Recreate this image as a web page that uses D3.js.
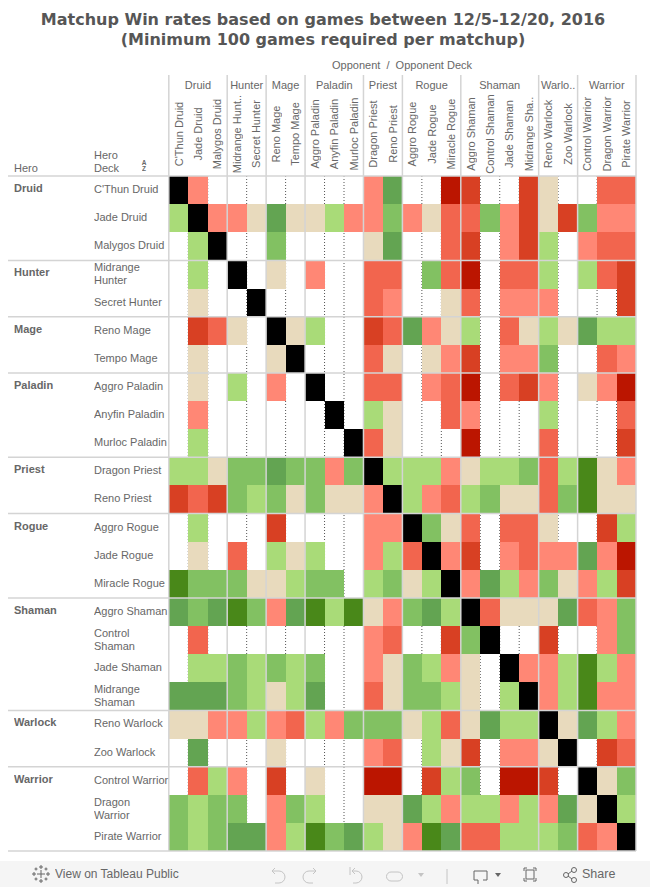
<!DOCTYPE html>
<html>
<head>
<meta charset="utf-8">
<script src="https://d3js.org/d3.v7.min.js"></script>
<style>
  html, body { margin: 0; padding: 0; background: #fff; }
  text { font-family: "Liberation Sans", Arial, sans-serif; fill: #666; opacity: 0.99; white-space: pre; }
</style>
</head>
<body>
<svg id="chart" width="650" height="887"></svg>
<script>
const heroes = ["Druid", "Hunter", "Mage", "Paladin", "Priest", "Rogue", "Shaman", "Warlock", "Warrior"],
      heroLabels = ["Druid", "Hunter", "Mage", "Paladin", "Priest", "Rogue", "Shaman", "Warlo..", "Warrior"],
      heroSizes = [3, 2, 2, 3, 2, 3, 4, 2, 3];

const decks = ["C'Thun Druid", "Jade Druid", "Malygos Druid", "Midrange Hunter", "Secret Hunter",
  "Reno Mage", "Tempo Mage", "Aggro Paladin", "Anyfin Paladin", "Murloc Paladin", "Dragon Priest",
  "Reno Priest", "Aggro Rogue", "Jade Rogue", "Miracle Rogue", "Aggro Shaman", "Control Shaman",
  "Jade Shaman", "Midrange Shaman", "Reno Warlock", "Zoo Warlock", "Control Warrior",
  "Dragon Warrior", "Pirate Warrior"];

const columnLabels = decks.map(d => d === "Midrange Hunter" ? "Midrange Hunt.." : d === "Midrange Shaman" ? "Midrange Sha.." : d);

const wrappedDecks = ["Midrange Hunter", "Control Shaman", "Dragon Warrior", "Midrange Shaman"];

// win rate bands, 1 = heavily unfavoured .. 9 = heavily favoured, 0 = under 100 games, X = mirror
const X = -1;
const bands = [1, 2, 3, 4, 5, 6, 7, 8, 9, X],
      bandColors = ["#bb1500", "#d84023", "#f2654e", "#ff8775", "#e8dabd", "#a9db78", "#82c162", "#63a452", "#498819", "#000"];

const cthunDruid     = [X,4,0,0,0,0,0,0,0,0,4,8,0,0,1,2,0,0,2,5,0,0,3,3],
      jadeDruid      = [6,X,4,4,5,8,5,5,6,4,4,7,4,5,3,3,7,4,2,5,2,7,4,4],
      malygosDruid   = [0,6,X,0,0,7,0,0,0,0,5,8,0,0,3,2,0,4,2,6,0,4,3,3],
      midrangeHunter = [0,6,0,X,0,5,0,4,0,0,3,3,0,7,3,1,0,3,3,6,0,6,3,2],
      secretHunter   = [0,5,0,0,X,0,0,0,0,0,3,4,0,0,5,3,0,4,4,4,0,0,0,2],
      renoMage       = [0,2,3,5,0,X,5,6,0,0,2,3,8,4,5,6,0,3,5,6,5,8,6,6],
      tempoMage      = [0,5,0,0,0,5,X,0,0,0,3,5,0,5,4,2,0,4,4,7,0,0,3,4],
      aggroPaladin   = [0,5,0,6,0,4,0,X,0,0,3,3,0,4,3,1,0,3,2,4,0,5,4,1],
      anyfinPaladin  = [0,4,0,0,0,0,0,0,X,0,6,5,0,0,3,4,0,0,0,6,0,0,0,3],
      murlocPaladin  = [0,6,0,0,0,0,0,0,0,X,3,5,0,0,0,1,0,0,0,3,0,0,0,2],
      dragonPriest   = [6,6,5,7,7,8,7,7,4,7,X,6,6,6,4,5,6,6,7,3,6,9,5,4],
      renoPriest     = [2,3,2,7,6,7,5,7,5,5,4,X,6,4,3,6,7,5,5,3,7,9,5,5],
      aggroRogue     = [0,6,0,0,0,2,0,0,0,0,4,4,X,7,5,3,0,3,3,5,0,0,2,6],
      jadeRogue      = [0,5,0,3,0,6,5,6,0,0,4,6,3,X,4,2,0,4,3,4,4,8,4,1],
      miracleRogue   = [9,7,7,7,5,5,6,7,7,0,6,7,5,6,X,4,8,6,4,7,5,4,6,2],
      aggroShaman    = [8,7,8,9,7,4,8,9,6,9,5,4,7,8,6,X,3,5,5,5,8,3,4,7],
      controlShaman  = [0,3,0,0,0,0,0,0,0,0,4,3,0,0,2,7,X,0,0,2,0,0,4,7],
      jadeShaman     = [0,6,6,7,6,7,6,7,0,0,4,5,7,6,4,5,0,X,4,4,6,9,6,4],
      midrangeShaman = [8,8,8,7,6,5,6,8,0,0,3,5,7,7,6,5,0,6,X,4,6,9,4,4],
      renoWarlock    = [5,5,4,4,6,4,3,6,4,7,7,7,5,6,3,5,8,6,6,X,5,8,6,4],
      zooWarlock     = [0,8,0,0,0,5,0,0,0,0,4,3,0,6,5,2,0,4,4,5,X,0,2,3],
      controlWarrior = [0,3,6,4,0,2,0,5,0,0,1,1,0,2,6,7,0,1,1,2,0,X,5,7],
      dragonWarrior  = [7,6,7,7,0,4,7,6,0,0,5,5,8,6,4,6,6,4,6,4,8,5,X,6],
      pirateWarrior  = [7,6,7,8,8,4,6,9,7,8,6,5,4,9,8,3,3,6,6,6,7,3,4,X];

const matchups = [cthunDruid, jadeDruid, malygosDruid, midrangeHunter, secretHunter, renoMage, tempoMage,
  aggroPaladin, anyfinPaladin, murlocPaladin, dragonPriest, renoPriest, aggroRogue, jadeRogue, miracleRogue,
  aggroShaman, controlShaman, jadeShaman, midrangeShaman, renoWarlock, zooWarlock, controlWarrior,
  dragonWarrior, pirateWarrior];

const svg = d3.select("#chart");

const x = d3.scaleBand().domain(decks).range([168.8, 636]),
      y = d3.scaleBand().domain(decks).range([176, 851]),
      color = d3.scaleOrdinal().domain(bands).range(bandColors);

// index of the first deck of each hero
const starts = heroSizes.map((n, i) => d3.sum(heroSizes.slice(0, i)));

// title
svg.selectAll(".title")
  .data(["Matchup Win rates based on games between 12/5-12/20, 2016", "(Minimum 100 games required per matchup)"])
  .enter().append("text")
    .attr("class", "title")
    .attr("x", 323)
    .attr("y", (d, i) => 25 + i * 20)
    .attr("text-anchor", "middle")
    .style("font-family", "'DejaVu Sans', sans-serif")
    .style("font-weight", "bold")
    .style("font-size", "16px")
    .style("fill", "#555")
    .text(d => d);

// headers
svg.append("text").attr("x", 332).attr("y", 69).style("font-size", "11px").text("Opponent  /  Opponent Deck");
svg.append("text").attr("x", 14).attr("y", 172).style("font-size", "11px").text("Hero");
svg.selectAll(".deckTitle").data(["Hero", "Deck"]).enter().append("text")
    .attr("class", "deckTitle")
    .attr("x", 94)
    .attr("y", (d, i) => 159 + i * 13)
    .style("font-size", "11px")
    .text(d => d);
svg.selectAll(".sort").data(["A", "Z"]).enter().append("text")
    .attr("class", "sort")
    .attr("x", 144)
    .attr("y", (d, i) => 165 + i * 6)
    .attr("text-anchor", "middle")
    .style("font-size", "6.5px")
    .style("font-weight", "bold")
    .text(d => d);

// dotted deck separators, under the cells
const inner = d3.range(1, decks.length).filter(i => !starts.includes(i));
svg.append("g").selectAll("line").data(inner).enter().append("line")
    .attr("x1", i => x(decks[i]))
    .attr("x2", i => x(decks[i]))
    .attr("y1", y.range()[0])
    .attr("y2", y.range()[1])
    .attr("stroke", "#555")
    .attr("stroke-dasharray", "1,2");

// cells
const cells = matchups.flatMap((row, r) => row.map((band, c) => ({row: decks[r], col: decks[c], band})))
  .filter(d => d.band !== 0);

svg.append("g").selectAll("rect").data(cells).enter().append("rect")
    .attr("x", d => x(d.col))
    .attr("y", d => y(d.row))
    .attr("width", x.bandwidth())
    .attr("height", y.bandwidth())
    .attr("fill", d => color(d.band))
    .attr("shape-rendering", "crispEdges");

// hero group dividers
const grid = svg.append("g").attr("stroke", "#d4d4d4").attr("stroke-width", 1.5);

grid.selectAll(".colLine").data(starts).enter().append("line")
    .attr("class", "colLine")
    .attr("x1", i => x(decks[i]))
    .attr("x2", i => x(decks[i]))
    .attr("y1", 75)
    .attr("y2", y.range()[1]);

grid.append("line")
    .attr("x1", x.range()[1])
    .attr("x2", x.range()[1])
    .attr("y1", 75)
    .attr("y2", y.range()[1]);

grid.selectAll(".rowLine").data(starts).enter().append("line")
    .attr("class", "rowLine")
    .attr("x1", 8)
    .attr("x2", x.range()[1])
    .attr("y1", i => y(decks[i]))
    .attr("y2", i => y(decks[i]));

grid.append("line")
    .attr("x1", 8)
    .attr("x2", x.range()[1])
    .attr("y1", y.range()[1])
    .attr("y2", y.range()[1]);

// column headers
svg.selectAll(".heroCol").data(heroLabels).enter().append("text")
    .attr("class", "heroCol")
    .attr("x", (d, i) => x(decks[starts[i]]) + heroSizes[i] * x.bandwidth() / 2)
    .attr("y", 89)
    .attr("text-anchor", "middle")
    .style("font-size", "11px")
    .text(d => d);

svg.selectAll(".deckCol").data(columnLabels).enter().append("text")
    .attr("class", "deckCol")
    .attr("transform", (d, i) => `translate(${x(decks[i]) + x.bandwidth() / 2 + 4},134) rotate(-90)`)
    .attr("text-anchor", "middle")
    .style("font-size", "11px")
    .text(d => d);

// row headers
svg.selectAll(".heroRow").data(heroes).enter().append("text")
    .attr("class", "heroRow")
    .attr("x", 14)
    .attr("y", (d, i) => y(decks[starts[i]]) + y.bandwidth() / 2 + 2)
    .style("font-size", "11px")
    .style("font-weight", "bold")
    .text(d => d);

svg.selectAll(".deckRow").data(decks).enter().append("text")
    .attr("class", "deckRow")
    .attr("x", 94)
    .attr("y", d => y(d) + y.bandwidth() / 2 + 3)
    .style("font-size", "11px")
    .each(function(d) {
      const el = d3.select(this);
      if (wrappedDecks.includes(d)) {
        const words = d.split(" ");
        el.attr("y", y(d) + y.bandwidth() / 2 - 3);
        el.append("tspan").attr("x", 94).text(words[0]);
        el.append("tspan").attr("x", 94).attr("dy", 13).text(words[1]);
      }
      else el.text(d);
    });

// tableau toolbar
const bar = svg.append("g");
bar.append("rect").attr("x", 0).attr("y", 861).attr("width", 650).attr("height", 26).attr("fill", "#f5f5f5");
bar.append("text").attr("x", 55).attr("y", 878).style("font-size", "12px").style("fill", "#666").text("View on Tableau Public");
bar.append("text").attr("x", 582).attr("y", 878).style("font-size", "12.5px").style("fill", "#666").text("Share");

const logo = bar.append("g").attr("stroke", "#666").attr("fill", "none").attr("stroke-width", 1);
[[41, 874, 4], [34, 874, 2], [48, 874, 2], [41, 867, 2], [41, 881, 2], [36, 869, 1.5], [46, 869, 1.5], [36, 879, 1.5], [46, 879, 1.5]].forEach(c => {
  logo.append("path").attr("d", `M${c[0] - c[2]},${c[1]}H${c[0] + c[2]}M${c[0]},${c[1] - c[2]}V${c[1] + c[2]}`);
});

const icons = bar.append("g").attr("fill", "none").attr("stroke-width", 1);
icons.append("path").attr("stroke", "#c4c4c4").attr("d", "M272,871h7a6,6 0 0 1 0,12h-4M272,871l3,-3M272,871l3,3");
icons.append("path").attr("stroke", "#c4c4c4").attr("d", "M316,871h-7a6,6 0 0 0 0,12h4M316,871l-3,-3M316,871l-3,3");
icons.append("path").attr("stroke", "#c4c4c4").attr("d", "M352,871h4a6,6 0 0 1 0,12h-3M352,871l3,-3M352,871l3,3M350,867v8");
icons.append("path").attr("stroke", "#c4c4c4").attr("d", "M395,872h3a4,4 0 0 1 0,9h-7a4,4 0 0 1 0,-9h4");
icons.append("path").attr("stroke", "#c4c4c4").attr("d", "M447,869v15");
icons.append("path").attr("stroke", "#666").attr("d", "M474,871v9h4v4M483,880h4v-9h-13");
icons.append("path").attr("stroke", "#666").attr("d", "M527,868h-3v3M533,868h3v3M527,881h-3v-3M533,881h3v-3");
icons.append("rect").attr("stroke", "#666").attr("x", 526).attr("y", 870).attr("width", 8).attr("height", 9);
icons.append("circle").attr("stroke", "#666").attr("cx", 566).attr("cy", 875).attr("r", 2.5);
icons.append("circle").attr("stroke", "#666").attr("cx", 574).attr("cy", 870).attr("r", 2.5);
icons.append("circle").attr("stroke", "#666").attr("cx", 574).attr("cy", 880).attr("r", 2.5);
icons.append("path").attr("stroke", "#666").attr("d", "M568,874l4,-3M568,876l4,3");
bar.append("path").attr("fill", "#c4c4c4").attr("d", "M418,873h6l-3,4z");
bar.append("path").attr("fill", "#666").attr("d", "M495,873h6l-3,4z");
</script>
</body>
</html>
